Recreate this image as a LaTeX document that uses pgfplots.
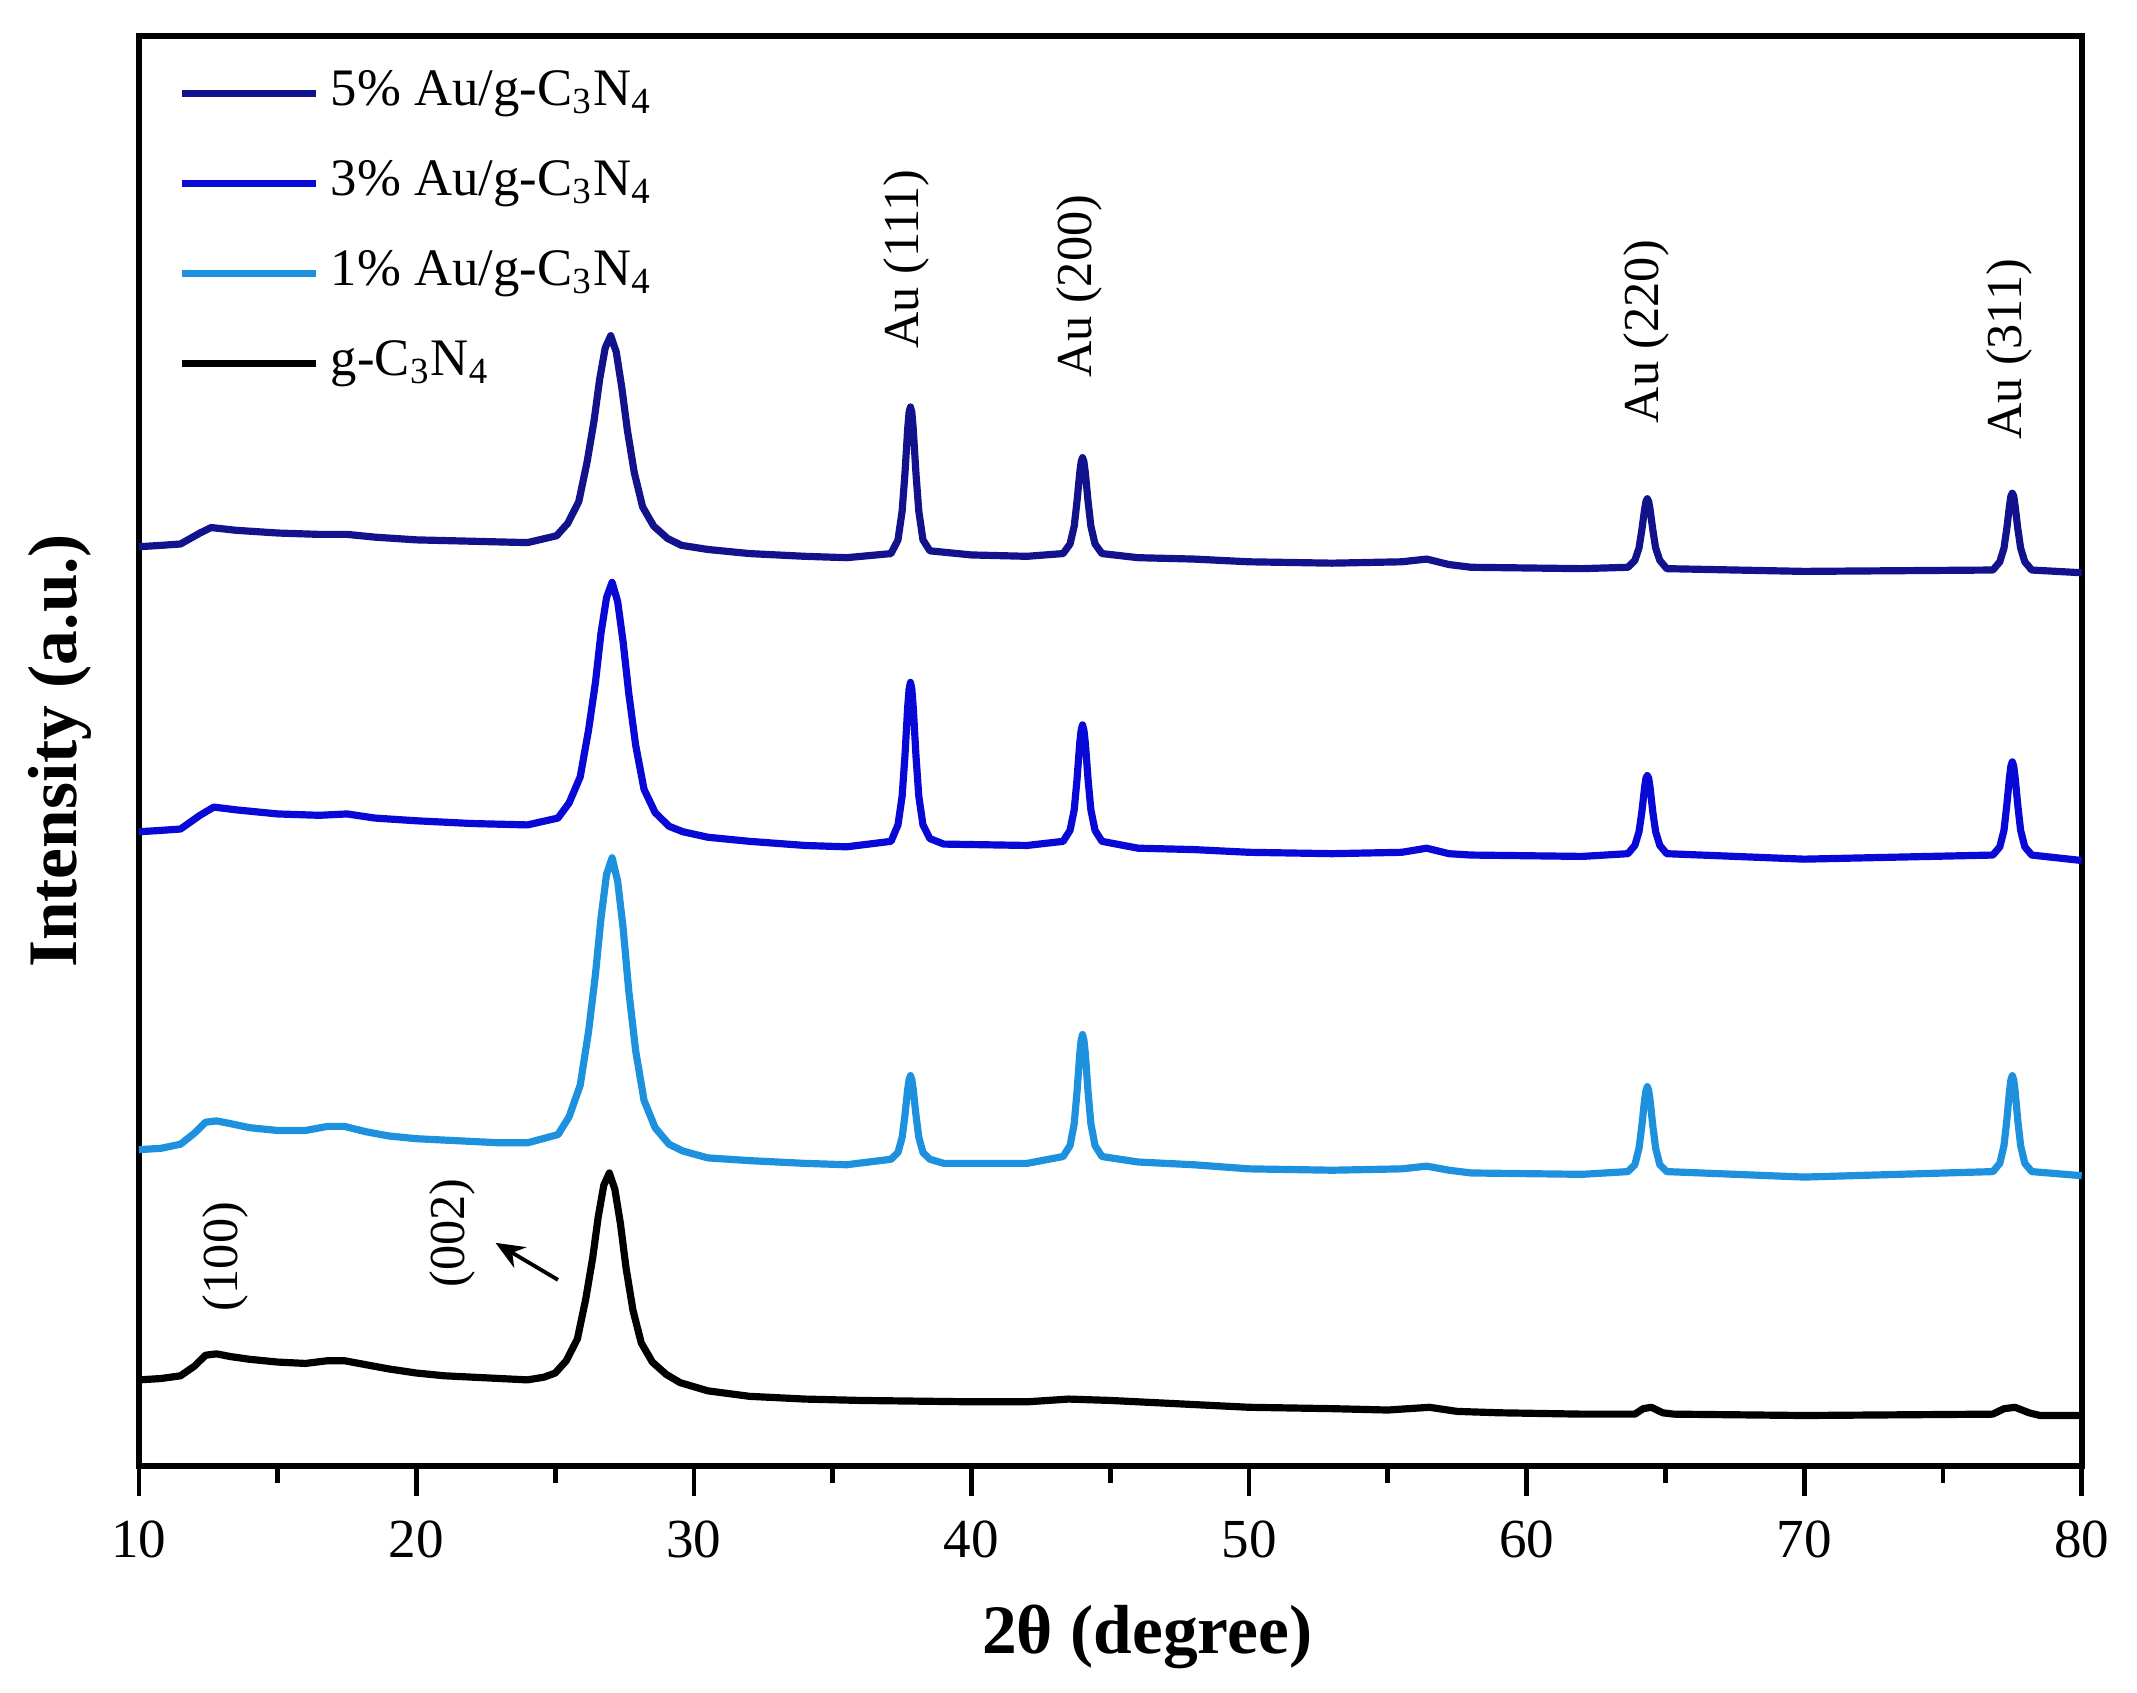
\documentclass[border=0pt]{standalone}
\usepackage{fontspec}
\setmainfont{Liberation Serif}
\usepackage{pgfplots}
\pgfplotsset{compat=1.18}
\usetikzlibrary{arrows.meta,calc}
\definecolor{c5}{RGB}{18,18,140}
\definecolor{c3}{RGB}{8,8,215}
\definecolor{c1}{RGB}{30,145,222}
\begin{document}
\begin{tikzpicture}
\begin{axis}[
  scale only axis,
  width=405.6pt, height=298.5pt,
  xmin=10, xmax=80, ymin=3.3, ymax=1046.7,
  xtick={10,20,...,80},
  minor xtick={15,25,...,75},
  ytick=\empty,
  xtick pos=bottom,
  tick align=outside,
  major tick length=6.3pt,
  minor tick length=3.5pt,
  every tick/.style={black, line width=1pt},
  axis line style={line width=1.2pt},
  xticklabel shift=5.0pt,
  xticklabel style={anchor=north, inner sep=0pt, font=\fontsize{11.5}{14}\selectfont},
  /pgf/number format/assume math mode=true,
  clip=false,
  xlabel={\textbf{2θ (degree)}},
  ylabel={\textbf{Intensity (a.u.)}},
  xlabel style={at={(rel axis cs:0.519,0)}, anchor=center, yshift=-35.8pt, font=\fontsize{14.5}{17}\selectfont},
  ylabel style={at={(rel axis cs:0,0.5)}, anchor=center, yshift=16.4pt, font=\fontsize{14.5}{17}\selectfont},
  legend style={at={(rel axis cs:0,1)}, anchor=north west, xshift=8.1pt, yshift=-6.3pt,
    draw=none, fill=none, inner sep=0pt, row sep=7.8pt, column sep=2.3pt,
    nodes={inner sep=0pt, text height=8pt, text depth=3pt},
    font=\fontsize{11}{13}\selectfont},
  legend cell align=left,
  legend image code/.code={\draw[#1] (0pt,0pt) -- (28pt,0pt);},
]
% 5% Au/g-C3N4
\addplot[c5, line width=1.5pt, line join=round] coordinates {
(10.0,674) (10.8,675) (11.5,676) (12.2,684) (12.6,688) (13.5,686) (15.0,684) (16.5,683) (17.5,683) (18.5,681) (20.0,679) (22.0,678) (24.0,677)
(25.05,682) (25.45,691) (25.85,707) (26.15,736) (26.4,766) (26.6,796) (26.8,819) (27.0,828) (27.2,816) (27.4,790) (27.6,759) (27.85,728) (28.15,703) (28.55,689) (29.05,680) (29.55,675)
(30.5,672) (32.0,669) (34.0,667) (35.5,666) (37.1,669)
(37.35,679) (37.5,700) (37.6,727) (37.7,760) (37.75,772) (37.8,776) (37.85,772) (37.9,760) (38.0,727) (38.1,700) (38.25,679) (38.5,671)
(40.0,668) (42.0,667) (43.3,669) (43.55,676) (43.7,689) (43.8,707) (43.9,728) (43.95,736) (44.0,739) (44.05,736) (44.1,728) (44.2,707) (44.3,689) (44.45,676) (44.7,669)
(46.0,666) (48.0,665) (50.0,663) (53.0,662) (55.5,663) (56.4,665) (57.2,661) (58.0,659) (62.0,658)
(63.65,659) (63.9,664) (64.05,673) (64.15,686) (64.25,701) (64.3,707) (64.35,709) (64.4,707) (64.45,701) (64.55,686) (64.65,673) (64.8,664) (65.05,658)
(70.0,656) (76.8,657) (77.05,663) (77.2,673) (77.3,687) (77.4,704) (77.45,711) (77.5,713) (77.55,711) (77.6,704) (77.7,687) (77.8,673) (77.95,663) (78.2,657) (80.0,655)
};
\addlegendentry{5\% Au/g-C\textsubscript{3}N\textsubscript{4}}
% 3% Au/g-C3N4
\addplot[c3, line width=1.5pt, line join=round] coordinates {
(10.0,466) (10.8,467) (11.5,468) (12.2,478) (12.7,484) (13.5,482) (15.0,479) (16.5,478) (17.5,479) (18.5,476) (20.0,474) (22.0,472) (24.0,471)
(25.1,476) (25.5,487) (25.9,506) (26.2,540) (26.45,575) (26.65,611) (26.85,637) (27.05,648) (27.25,634) (27.45,604) (27.65,567) (27.9,529) (28.2,497) (28.6,480) (29.1,470) (29.6,466)
(30.5,462) (32.0,459) (34.0,456) (35.5,455) (37.1,459)
(37.35,471) (37.5,492) (37.6,521) (37.7,557) (37.75,570) (37.8,575) (37.85,570) (37.9,557) (38.0,521) (38.1,492) (38.25,471) (38.5,461)
(39.0,457) (42.0,456) (43.3,459) (43.55,467) (43.7,482) (43.8,504) (43.9,531) (43.95,540) (44.0,544) (44.05,540) (44.1,531) (44.2,504) (44.3,482) (44.45,467) (44.7,459)
(46.0,454) (48.0,453) (50.0,451) (53.0,450) (55.5,451) (56.4,454) (57.2,450) (58.0,449) (62.0,448)
(63.65,450) (63.9,456) (64.05,466) (64.15,480) (64.25,498) (64.3,505) (64.35,507) (64.4,505) (64.45,498) (64.55,480) (64.65,466) (64.8,456) (65.05,450)
(70.0,446) (76.8,449) (77.05,455) (77.2,467) (77.3,485) (77.4,506) (77.45,514) (77.5,517) (77.55,514) (77.6,506) (77.7,485) (77.8,467) (77.95,455) (78.2,449) (80.0,445)
};
\addlegendentry{3\% Au/g-C\textsubscript{3}N\textsubscript{4}}
% 1% Au/g-C3N4
\addplot[c1, line width=1.5pt, line join=round] coordinates {
(10.0,234) (10.8,235) (11.5,238) (12.0,246) (12.4,254) (12.8,255) (13.3,253) (14.0,250) (15.0,248) (16.0,248) (16.8,251) (17.4,251) (18.2,247) (19.0,244) (20.0,242) (21.0,241) (22.0,240) (23.0,239) (24.0,239)
(25.1,245) (25.5,258) (25.9,281) (26.2,320) (26.45,362) (26.65,403) (26.85,435) (27.05,447) (27.25,430) (27.45,395) (27.65,350) (27.9,306) (28.2,270) (28.6,250) (29.1,238) (29.6,233)
(30.5,228) (32.0,226) (34.0,224) (35.5,223) (37.1,227)
(37.35,232) (37.5,243) (37.6,259) (37.7,278) (37.75,285) (37.8,288) (37.85,285) (37.9,278) (38.0,259) (38.1,243) (38.25,232) (38.5,227)
(39.0,224) (42.0,224) (43.3,229) (43.55,237) (43.7,253) (43.8,276) (43.9,304) (43.95,314) (44.0,318) (44.05,314) (44.1,304) (44.2,276) (44.3,253) (44.45,237) (44.7,229)
(46.0,225) (48.0,223) (50.0,220) (53.0,219) (55.5,220) (56.4,222) (57.2,219) (58.0,217) (62.0,216)
(63.65,218) (63.9,223) (64.05,235) (64.15,251) (64.25,270) (64.3,277) (64.35,280) (64.4,277) (64.45,270) (64.55,251) (64.65,235) (64.8,223) (65.05,218)
(70.0,214) (76.8,218) (77.05,224) (77.2,237) (77.3,255) (77.4,277) (77.45,285) (77.5,288) (77.55,285) (77.6,277) (77.7,255) (77.8,237) (77.95,224) (78.2,218) (80.0,215)
};
\addlegendentry{1\% Au/g-C\textsubscript{3}N\textsubscript{4}}
% g-C3N4
\addplot[black, line width=1.5pt, line join=round] coordinates {
(10.0,66) (10.8,67) (11.5,69) (12.0,76) (12.4,84) (12.8,85) (13.3,83) (14.0,81) (15.0,79) (16.0,78) (16.8,80) (17.4,80) (18.2,77) (19.0,74) (20.0,71) (21.0,69) (22.0,68) (23.0,67) (24.0,66)
(24.6,68) (25.0,71) (25.4,80) (25.8,96) (26.1,125) (26.35,155) (26.55,185) (26.75,208) (26.95,217) (27.15,205) (27.35,180) (27.55,148) (27.8,117) (28.1,93) (28.5,79) (29.0,70) (29.5,64)
(30.5,58) (32.0,54) (34.0,52) (36.0,51) (40.0,50) (42.0,50) (43.5,52) (45.0,51) (47.0,49) (50.0,46) (53.0,45) (55.0,44) (56.5,46) (57.5,43) (59.0,42) (62.0,41)
(63.9,41) (64.2,45) (64.5,46) (64.9,42) (65.3,41) (70.0,40) (76.8,41) (77.2,45) (77.6,46) (78.1,42) (78.5,40) (80.0,40)
};
\addlegendentry{g-C\textsubscript{3}N\textsubscript{4}}
% annotations
\node[rotate=90, anchor=center, font=\fontsize{10.5}{12}\selectfont] at (axis cs:37.65,884) {Au (111)};
\node[rotate=90, anchor=center, font=\fontsize{10.5}{12}\selectfont] at (axis cs:43.9,864) {Au (200)};
\node[rotate=90, anchor=center, font=\fontsize{10.5}{12}\selectfont] at (axis cs:64.3,831) {Au (220)};
\node[rotate=90, anchor=center, font=\fontsize{10.5}{12}\selectfont] at (axis cs:77.4,818) {Au (311)};
\node[rotate=90, anchor=center, font=\fontsize{10.5}{12}\selectfont] at (axis cs:13.1,156) {(100)};
\node[rotate=90, anchor=center, font=\fontsize{10.5}{12}\selectfont] at (axis cs:21.3,173) {(002)};
\draw[line width=0.8pt, -{Stealth[length=6pt,width=5pt]}] (axis cs:25.1,139) -- (axis cs:22.85,166);
\end{axis}
\pgfresetboundingbox
\path ($(current axis.south west)+(-29.0pt,-47.3pt)$) rectangle ($(current axis.north east)+(11.55pt,7.52pt)$);
\end{tikzpicture}
\end{document}
